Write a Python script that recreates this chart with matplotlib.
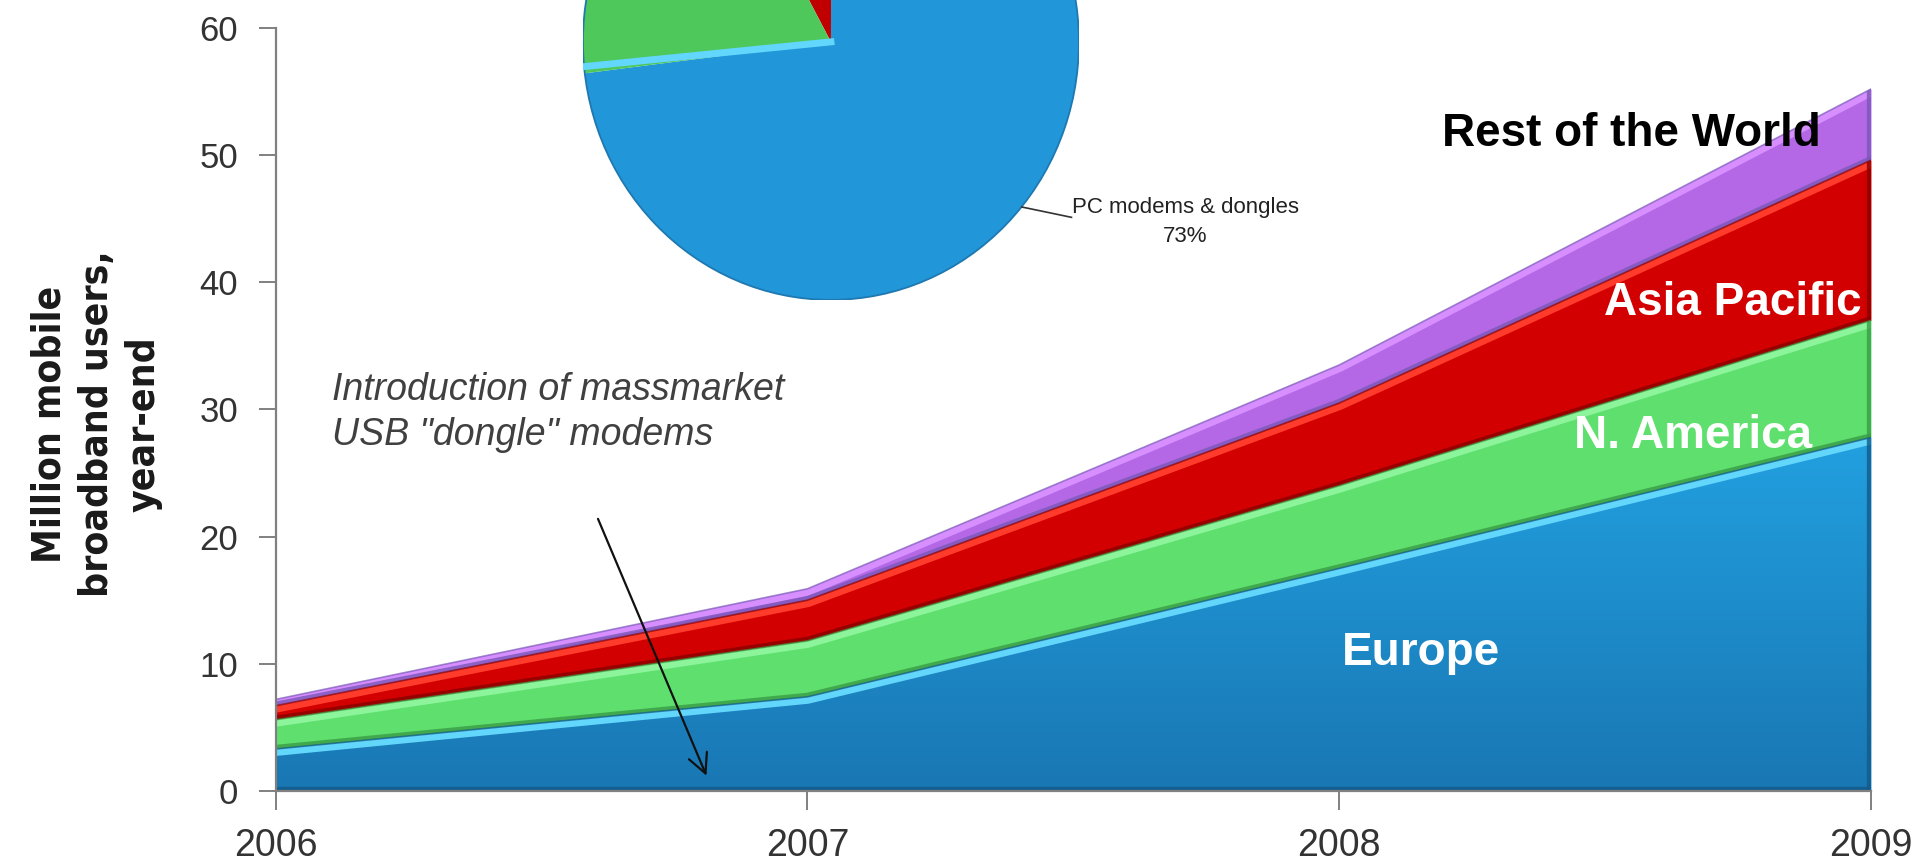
import numpy as np
import matplotlib
matplotlib.use('Agg')
import matplotlib.pyplot as plt
from matplotlib.colors import LinearSegmentedColormap

plt.rcParams['font.family'] = ['Liberation Sans', 'DejaVu Sans']

# mobile broadband users by region, million, year-end
years = [2006, 2007, 2008, 2009]
europe = [3.3, 7.4, 17.5, 27.8]
n_america = [2.3, 4.4, 6.5, 9.2]
asia_pacific = [1.1, 3.2, 6.5, 12.6]
rest_of_world = [0.5, 0.9, 3.0, 5.6]
region_names = ['Europe', 'N. America', 'Asia Pacific', 'Rest of the World']

# device split (pie inset)
device_share = [73, 8, 19]
device_labels = ['PC modems & dongles', '', '']

body = ['#1f90d2', '#5fe06e', '#d20000', '#b468e6']
light = ['#62d6fb', '#8cf59c', '#ff3b2b', '#d78eff']
dark = ['#135a88', '#3a9c45', '#8a0000', '#7a58b8']

fig = plt.figure(figsize=(19.15, 8.67), dpi=100)
ax = fig.add_axes([0.144, 0.0877, 0.833, 0.880])

layers = np.vstack([europe, n_america, asia_pacific, rest_of_world])
tops = np.cumsum(layers, axis=0)
bottoms = tops - layers

for i in range(len(layers)):
    poly = ax.fill_between(years, bottoms[i], tops[i], color=body[i], lw=0, zorder=2)
    clip = poly.get_paths()[0]
    if i == 0:
        grad = np.linspace(0, 1, 256).reshape(-1, 1)
        cmap = LinearSegmentedColormap.from_list('eu', ['#1977b3', '#22a0e0'])
        im = ax.imshow(grad, cmap=cmap, origin='lower', aspect='auto',
                       extent=[years[0], years[-1], 0, max(europe)], zorder=2.5)
        im.set_clip_path(clip, ax.transData)
    # bevel: bright strip along the top, darker along the bottom and right edge
    hl, = ax.plot(years, tops[i], color=light[i], lw=10, zorder=3)
    hl.set_clip_path(clip, ax.transData)
    sh, = ax.plot(years, bottoms[i], color=dark[i], lw=6, zorder=3, alpha=0.8)
    sh.set_clip_path(clip, ax.transData)
    ed, = ax.plot([years[-1], years[-1]], [bottoms[i][-1], tops[i][-1]],
                  color=dark[i], lw=6, zorder=3, alpha=0.8)
    ed.set_clip_path(clip, ax.transData)
    ax.plot(years, tops[i], color=dark[i], lw=1.2, zorder=3.2, alpha=0.7)

ax.set_xlim(2006, 2009)
ax.set_ylim(0, 60)
ax.set_xticks(years)
ax.set_yticks(range(0, 61, 10))
for s in ['top', 'right']:
    ax.spines[s].set_visible(False)
for s in ['left', 'bottom']:
    ax.spines[s].set_color('#808080')
    ax.spines[s].set_linewidth(1.6)
    ax.spines[s].set_zorder(4)
ax.tick_params(axis='y', length=12, width=1.4, color='#808080', pad=15,
               labelsize=25, labelcolor='#333333')
ax.tick_params(axis='x', length=14, width=1.4, color='#808080', pad=13,
               labelsize=27, labelcolor='#333333')

# region labels
ax.text(2008.153, 10.85, region_names[0], color='white', fontsize=33,
        fontweight='bold', ha='center', va='center', zorder=6)
ax.text(2008.665, 27.9, region_names[1], color='white', fontsize=33,
        fontweight='bold', ha='center', va='center', zorder=6)
ax.text(2008.74, 38.4, region_names[2], color='white', fontsize=33,
        fontweight='bold', ha='center', va='center', zorder=6)
ax.text(2008.55, 51.7, region_names[3], color='black', fontsize=33,
        fontweight='bold', ha='center', va='center', zorder=6)

ax.text(2006.105, 29.8, 'Introduction of massmarket\nUSB "dongle" modems',
        fontsize=27, style='italic', color='#404040', ha='left', va='center',
        linespacing=1.32, zorder=6)
ax.annotate('', xy=(2006.81, 1.2), xytext=(2006.606, 21.4),
            arrowprops=dict(arrowstyle='->', color='#111111', lw=1.6,
                            mutation_scale=35, shrinkA=0, shrinkB=0), zorder=6)

fig.text(0.0505, 0.511, 'Million mobile\nbroadband users,\nyear-end', rotation=90,
         ha='center', va='center', fontsize=28, fontweight='bold',
         family='DejaVu Sans', fontstretch='condensed', linespacing=1.3,
         color='#1a1a1a')

# pie inset, partly above the top edge
pax = fig.add_axes([0.3044, 0.6541, 0.2590, 0.5952], zorder=5)
wedges, _ = pax.pie(device_share, colors=['#2196d8', '#c00000', '#4ec85a'],
                    startangle=187, counterclock=True, radius=1,
                    wedgeprops=dict(edgecolor='none'))
pax.set_aspect('auto')
pax.set_xlim(-1, 1)
pax.set_ylim(-1, 1)
ang = np.deg2rad(185.5)
pax.plot([0, np.cos(ang) * 0.995], [0, np.sin(ang) * 0.995], color='#62d6fb', lw=5)
rim = plt.Circle((0, 0), 1.0, fill=False, color='#1f78b0', lw=1.3)
pax.add_patch(rim)
pax.plot([0.77, 0.97], [-0.64, -0.68], color='#333333', lw=1.2, clip_on=False)
pax.text(1.43, -0.70, f'{device_labels[0]}\n{device_share[0]}%', ha='center',
         va='center', fontsize=16, color='#222222', linespacing=1.5, clip_on=False)

fig.savefig('out.png', dpi=100)
